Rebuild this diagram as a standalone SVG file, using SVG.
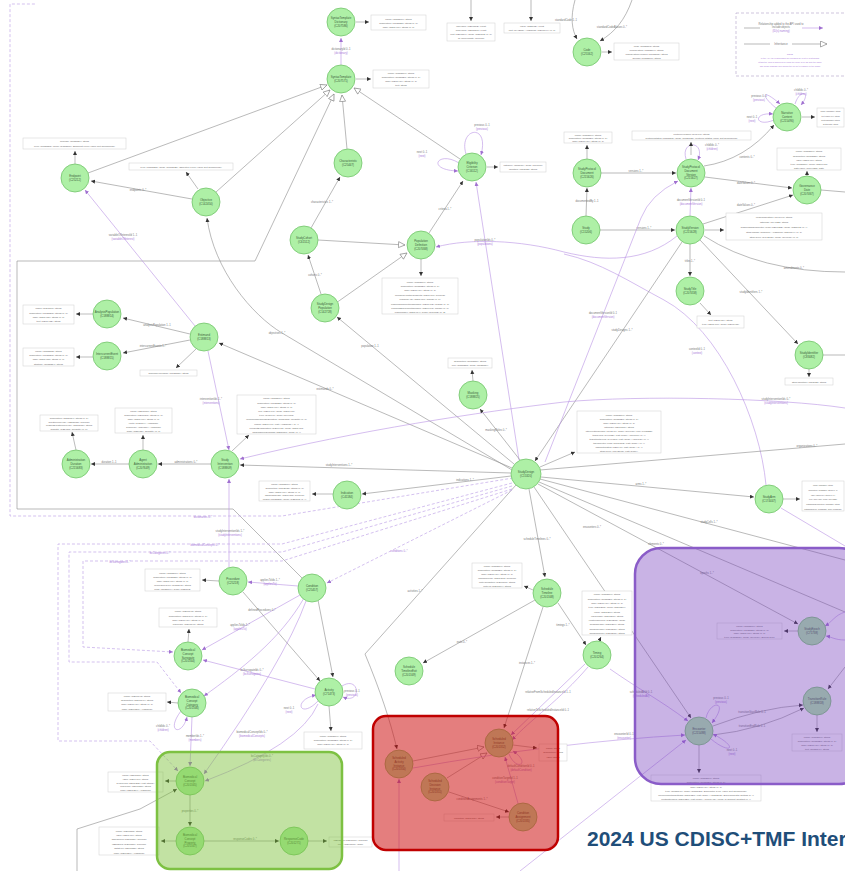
<svg xmlns="http://www.w3.org/2000/svg" width="845" height="871" viewBox="0 0 845 871">
<defs>
<marker id="a" markerUnits="userSpaceOnUse" markerWidth="5" markerHeight="5" refX="4" refY="2" orient="auto"><path d="M0,0 L4,2 L0,4 z" fill="#333"/></marker>
<marker id="ap" markerUnits="userSpaceOnUse" markerWidth="5" markerHeight="5" refX="4" refY="2" orient="auto"><path d="M0,0 L4,2 L0,4 z" fill="#a070d0"/></marker>
<marker id="t" markerUnits="userSpaceOnUse" markerWidth="8" markerHeight="8" refX="7" refY="3.5" orient="auto"><path d="M0.5,0.5 L7,3.5 L0.5,6.5 z" fill="#fff" stroke="#888" stroke-width="0.7"/></marker>
<style>
.n circle{fill:#aef0a6;stroke:#74c46c;stroke-width:0.8}
.n text{font-family:"Liberation Sans",Arial,sans-serif;font-size:2.9px;fill:#3d5f3d;text-anchor:middle}
.b rect{fill:#fff;stroke:#cfcfcf;stroke-width:0.5}
.b text{font-family:"Liberation Sans",Arial,sans-serif;font-size:2.5px;fill:#666;text-anchor:middle}
.b .s{font-size:1.9px}
.e{fill:none;stroke:#8c8c8c;stroke-width:0.6}
.p{fill:none;stroke:#b892e4;stroke-width:0.6}
.d{fill:none;stroke:#c2a6e8;stroke-width:0.7;stroke-dasharray:3 2}
.k{fill:none;stroke:#555;stroke-width:0.4}
.l{font-family:"Liberation Sans",Arial,sans-serif;font-size:2.7px;fill:#777;text-anchor:middle}
.lp{font-family:"Liberation Sans",Arial,sans-serif;font-size:2.7px;fill:#a878d8;text-anchor:middle}
.ln{font-family:"Liberation Sans",Arial,sans-serif;font-size:2.1px;fill:#a878d8;text-anchor:middle}
.title{font-family:"Liberation Sans",Arial,sans-serif;font-size:21px;font-weight:bold;fill:#1f4e79}
</style>
</defs>
<rect width="845" height="871" fill="#fff"/>

<!-- legend -->
<g id="legend">
<rect x="736" y="13" width="115" height="63" fill="none" stroke="#b0a0c8" stroke-width="0.6" stroke-dasharray="3 2"/>
<line x1="744" y1="28" x2="760" y2="28" class="e"/>
<line x1="802" y1="28" x2="823" y2="28" class="p" marker-end="url(#ap)"/>
<text class="l" x="781" y="25">Relationship added to the API used to</text>
<text class="l" x="781" y="28">include objects</text>
<text class="lp" x="781" y="32">(ID(s) naming)</text>
<line x1="744" y1="44" x2="770" y2="44" class="e"/>
<line x1="792" y1="44" x2="827" y2="44" class="e" marker-end="url(#t)"/>
<text class="l" x="781" y="45">Inheritance</text>
<text class="ln" x="790" y="55">NOTE</text>
<text class="ln" x="790" y="59">In the API, the relationships are replaced by a list of relationship</text>
<text class="ln" x="790" y="63">attributes. This is achieved by using the suffix Id or Ids with the name</text>
<text class="ln" x="790" y="67">The model diagram only shows the full set of classes of the model</text>
</g>

<!-- connectors -->
<g id="connectors">
<path class="p" d="M341,65 L341,38" marker-end="url(#ap)"/>
<text class="l" x="341" y="50">dictionaryId 0..1</text><text class="lp" x="341" y="54">(dictionary)</text>
<path class="e" d="M575,0 C570,18 572,30 577,39" marker-end="url(#a)"/>
<path class="e" d="M632,0 C625,20 615,32 600,41" marker-end="url(#a)"/>
<text class="l" x="566" y="21">standardCode 1..1</text>
<text class="l" x="612" y="28">standardCodeAliases 0..*</text>
<path class="e" d="M471,0 L471,21" marker-end="url(#a)"/>
<path class="e" d="M531,0 L531,21" marker-end="url(#a)"/>

<path class="e" d="M347,149 L342,95" marker-end="url(#t)"/>
<path class="e" d="M460,159 L354,88" marker-end="url(#t)"/>
<path class="e" d="M216,192 L330,90" marker-end="url(#t)"/>
<path class="e" d="M88,173 L327,85" marker-end="url(#t)"/>
<path class="e" d="M302,578 L233,509 L17,509 L17,261 L255,261 L334,94" marker-end="url(#t)"/>
<path class="e" d="M336,303 L407,253" marker-end="url(#t)"/>
<path class="e" d="M318,240 L405,245" marker-end="url(#t)"/>

<path class="e" d="M192,199 L91,181" marker-end="url(#a)"/>
<text class="l" x="138" y="191">endpoints 0..*</text>
<path class="p" d="M195,326 L85,190" marker-end="url(#ap)"/>
<text class="l" x="123" y="236">variableOfInterestId 1..1</text><text class="lp" x="123" y="240">(variableOfInterest)</text>
<path class="e" d="M190,334 L123,318" marker-end="url(#a)"/>
<text class="l" x="157" y="326">analysisPopulation 1..1</text>
<path class="e" d="M190,340 L123,353" marker-end="url(#a)"/>
<text class="l" x="153" y="347">intercurrentEvents 1..*</text>
<path class="e" d="M512,468 L219,343" marker-end="url(#a)"/>
<text class="l" x="325" y="390">estimands 0..*</text>
<path class="e" d="M512,470 L282,333 C252,315 214,270 207,218" marker-end="url(#a)"/>
<text class="l" x="277" y="334">objectives 1..*</text>
<path class="p" d="M208,351 L229,450" marker-end="url(#ap)"/>
<text class="l" x="211" y="400">interventionIds 1..*</text><text class="lp" x="211" y="404">(interventions)</text>

<path class="e" d="M511,473 L240,465" marker-end="url(#a)"/>
<text class="l" x="339" y="466">studyInterventions 1..*</text>
<path class="e" d="M211,464 L158,464" marker-end="url(#a)"/>
<text class="l" x="186" y="463">administrations 0..*</text>
<path class="e" d="M129,464 L91,464" marker-end="url(#a)"/>
<text class="l" x="109" y="463">duration 1..1</text>
<path class="p" d="M229,567 L229,479" marker-end="url(#ap)"/>
<text class="l" x="230" y="532">studyInterventionIds 1..*</text><text class="lp" x="230" y="536">(studyInterventions)</text>

<path class="e" d="M514,464 L337,317" marker-end="url(#a)"/>
<text class="l" x="370" y="347">population 1..1</text>
<path class="e" d="M321,294 L308,255" marker-end="url(#a)"/>
<text class="l" x="315" y="276">cohorts 0..*</text>
<path class="e" d="M311,228 L340,177" marker-end="url(#a)"/>
<text class="l" x="322" y="203">characteristics 1..*</text>
<path class="e" d="M429,233 L463,181" marker-end="url(#a)"/>
<text class="l" x="445" y="210">criteria 1..*</text>
<path class="p" d="M466,154 C458,128 490,122 481,155" marker-end="url(#ap)"/>
<text class="l" x="482" y="126">previous 0..1</text><text class="lp" x="482" y="130">(previous)</text>
<path class="p" d="M459,163 C438,150 425,170 458,171" marker-end="url(#ap)"/>
<text class="l" x="422" y="153">next 0..1</text><text class="lp" x="422" y="157">(next)</text>
<path class="p" d="M519,460 L476,182" marker-end="url(#ap)"/>
<path class="p" d="M677,236 C645,262 605,262 564,252 C520,240 470,238 436,247" marker-end="url(#ap)"/>
<text class="l" x="485" y="241">populationIds 0..*</text><text class="lp" x="485" y="245">(populations)</text>
<path class="p" d="M766,485 C760,420 720,330 664,300 C630,282 600,262 564,254"/>
<text class="l" x="697" y="350">contextId 0..1</text><text class="lp" x="697" y="354">(context)</text>

<path class="e" d="M601,173 L676,173" marker-end="url(#a)"/>
<text class="l" x="636" y="172">versions 1..*</text>
<path class="e" d="M586,216 L587,188" marker-end="url(#a)"/>
<text class="l" x="587" y="202">documentedBy 1..1</text>
<path class="p" d="M690,216 L691,188" marker-end="url(#ap)"/>
<text class="l" x="691" y="201">documentVersionId 0..1</text><text class="lp" x="691" y="205">(documentVersion)</text>
<path class="e" d="M704,166 Q745,160 774,125" marker-end="url(#a)"/>
<text class="l" x="747" y="158">contents 0..*</text>
<path class="e" d="M705,177 L792,188" marker-end="url(#a)"/>
<text class="l" x="746" y="184">dateValues 0..*</text>
<path class="e" d="M703,224 L793,195" marker-end="url(#a)"/>
<text class="l" x="746" y="206">dateValues 0..*</text>
<path class="p" d="M686,159 C680,140 706,140 698,160" marker-end="url(#ap)"/>
<text class="l" x="712" y="146">childIds 0..*</text><text class="lp" x="712" y="150">(children)</text>
<path class="p" d="M776,108 C760,95 762,88 780,104" marker-end="url(#ap)"/>
<text class="l" x="759" y="97">previous 0..1</text><text class="lp" x="759" y="101">(previous)</text>
<path class="p" d="M774,120 C755,128 752,112 773,114" marker-end="url(#ap)"/>
<text class="l" x="752" y="118">next 0..1</text><text class="lp" x="752" y="122">(next)</text>
<path class="p" d="M795,104 C800,88 812,92 801,105" marker-end="url(#ap)"/>
<text class="l" x="801" y="91">childIds 0..*</text><text class="lp" x="801" y="95">(children)</text>
<path class="e" d="M821,190 L845,192"/>
<path class="e" d="M600,230 L675,230" marker-end="url(#a)"/>
<text class="l" x="644" y="229">versions 1..*</text>
<path class="e" d="M690,244 L690,276" marker-end="url(#a)"/>
<text class="l" x="690" y="262">titles 1..*</text>
<path class="e" d="M700,240 L798,344" marker-end="url(#a)"/>
<text class="l" x="751" y="293">studyIdentifiers 1..*</text>
<path class="e" d="M704,236 Q760,272 845,272"/>
<text class="l" x="794" y="269">amendments 0..*</text>
<path class="e" d="M823,355 L845,355"/>
<path class="e" d="M682,242 L535,461" marker-end="url(#a)"/>
<text class="l" x="622" y="331">studyDesigns 1..*</text>
<path class="p" d="M545,462 L641,218 Q650,195 678,181" marker-end="url(#ap)"/>
<text class="l" x="603" y="314">documentVersionId 0..1</text><text class="lp" x="603" y="318">(documentVersion)</text>
<path class="p" d="M845,408 C780,398 640,395 564,402 C480,412 360,430 240,459" marker-end="url(#ap)"/>
<text class="l" x="776" y="400">studyInterventionIds 0..*</text><text class="lp" x="776" y="404">(studyInterventions)</text>

<path class="e" d="M520,460 L480,409" marker-end="url(#a)"/>
<text class="l" x="496" y="431">maskingRoles 0..*</text>
<path class="e" d="M541,477 L754,497" marker-end="url(#a)"/>
<text class="l" x="641" y="485">arms 1..*</text>
<path class="e" d="M540,470 L845,444"/>
<text class="l" x="807" y="447">organizations 0..*</text>
<path class="e" d="M540,479 L845,560"/>
<text class="l" x="709" y="523">studyCells 1..*</text>
<path class="e" d="M539,482 L845,612"/>
<text class="l" x="656" y="545">elements 0..*</text>
<path class="e" d="M538,484 L798,624" marker-end="url(#a)"/>
<text class="l" x="707" y="574">epochs 1..*</text>
<path class="e" d="M534,487 L691,718" marker-end="url(#a)"/>
<text class="l" x="592" y="528">encounters 0..*</text>
<path class="p" d="M781,508 L845,546"/>
<path class="e" d="M511,476 L362,494" marker-end="url(#a)"/>
<text class="l" x="465" y="481">indications 1..*</text>
<path class="e" d="M529,489 L545,577" marker-end="url(#a)"/>
<text class="l" x="537" y="540">scheduleTimelines 0..*</text>
<path class="e" d="M516,485 L365,654 C380,690 390,720 397,749" marker-end="url(#a)"/>
<text class="l" x="415" y="592">activities 1..*</text>
<path class="d" d="M512,490 L327,583" marker-end="url(#ap)"/>
<text class="lp" x="399" y="552">conditions 0..*</text>
<path class="d" d="M513,478 L282,516 L10,516 L10,4 L36,4"/>
<text class="lp" x="203" y="518">dictionaries 0..*</text>
<path class="d" d="M512,483 L282,544 L58,544 L58,741 L150,741 L178,771" marker-end="url(#ap)"/>
<text class="lp" x="205" y="546">biomedicalConcepts 0..*</text>
<path class="d" d="M512,486 L282,552 L69,552 L69,662 L157,662 L181,693" marker-end="url(#ap)"/>
<text class="lp" x="160" y="554">bcCategories 0..*</text>
<path class="d" d="M512,489 L282,561 L83,561 L83,647 L173,652" marker-end="url(#ap)"/>
<text class="lp" x="120" y="563">bcSurrogates 0..*</text>

<path class="p" d="M298,586 L248,582" marker-end="url(#ap)"/>
<text class="l" x="270" y="581">appliesToIds 1..*</text><text class="lp" x="270" y="585">(appliesTo)</text>
<path class="p" d="M300,595 L202,650" marker-end="url(#ap)"/>
<text class="l" x="240" y="626">appliesToIds 1..*</text><text class="lp" x="240" y="630">(appliesTo)</text>
<path class="e" d="M243,592 L320,681" marker-end="url(#a)"/>
<text class="l" x="262" y="611">definedProcedures 0..*</text>
<path class="e" d="M318,600 L333,677" marker-end="url(#a)"/>
<path class="p" d="M315,689 L203,660" marker-end="url(#ap)"/>
<text class="l" x="252" y="671">bcSurrogateIds 0..*</text><text class="lp" x="252" y="675">(bcSurrogates)</text>
<path class="p" d="M304,598 C280,640 240,670 204,696" marker-end="url(#ap)"/>
<path class="p" d="M306,601 Q285,660 204,774" marker-end="url(#ap)"/>
<text class="l" x="252" y="733">biomedicalConceptIds 0..*</text><text class="lp" x="252" y="737">(biomedicalConcepts)</text>
<path class="p" d="M318,704 Q300,745 205,781" marker-end="url(#ap)"/>
<text class="l" x="262" y="757">bcCategoryIds 0..*</text><text class="lp" x="262" y="761">(bcCategories)</text>
<path class="p" d="M192,717 L190,766" marker-end="url(#ap)"/>
<text class="l" x="195" y="737">memberIds 1..*</text><text class="lp" x="195" y="741">(members)</text>
<path class="p" d="M181,711 C165,732 182,737 187,717" marker-end="url(#ap)"/>
<text class="l" x="163" y="727">childIds 0..*</text><text class="lp" x="163" y="731">(children)</text>
<path class="e" d="M190,795 L190,826" marker-end="url(#a)"/>
<text class="l" x="190" y="812">properties 0..*</text>
<path class="e" d="M204,841 L279,841" marker-end="url(#a)"/>
<text class="l" x="245" y="840">responseCodes 0..*</text>
<path class="e" d="M77,871 L77,829 L140,809 L177,789" marker-end="url(#a)"/>
<path class="p" d="M342,686 C360,675 362,705 343,697" marker-end="url(#ap)"/>
<text class="l" x="352" y="692">previous 0..1</text><text class="lp" x="352" y="696">(previous)</text>
<path class="p" d="M318,701 C300,720 292,700 316,695" marker-end="url(#ap)"/>
<text class="l" x="289" y="709">next 0..1</text><text class="lp" x="289" y="713">(next)</text>

<path class="e" d="M535,600 L423,663" marker-end="url(#a)"/>
<text class="l" x="462" y="643">exits 0..*</text>
<path class="e" d="M543,607 L504,728" marker-end="url(#a)"/>
<text class="l" x="527" y="664">instances 1..*</text>
<path class="e" d="M558,603 L586,645" marker-end="url(#a)"/>
<text class="l" x="563" y="626">timings 1..*</text>
<path class="e" d="M413,761 L484,747" marker-end="url(#t)"/>
<path class="e" d="M447,778 L487,753" marker-end="url(#t)"/>
<path class="e" d="M449,792 L509,812" marker-end="url(#a)"/>
<text class="l" x="472" y="800">conditionAssignments 1..*</text>
<path class="p" d="M519,807 L505,757" marker-end="url(#ap)"/>
<text class="l" x="505" y="779">conditionTargetId 1..1</text><text class="lp" x="505" y="783">(conditionTarget)</text>
<path class="p" d="M509,754 C516,772 532,764 513,751" marker-end="url(#ap)"/>
<text class="l" x="521" y="767">defaultConditionId 0..1</text><text class="lp" x="521" y="771">(defaultCondition)</text>
<path class="p" d="M585,664 L511,735" marker-end="url(#ap)"/>
<text class="l" x="548" y="693">relativeFromScheduledInstanceId 1..1</text>
<path class="p" d="M588,667 C560,700 530,720 512,740" marker-end="url(#ap)"/>
<text class="l" x="548" y="711">relativeToScheduledInstanceId 0..1</text>
<path class="p" d="M399,871 L399,779" marker-end="url(#ap)"/>
<path class="p" d="M413,768 Q560,742 685,735" marker-end="url(#ap)"/>
<text class="l" x="624" y="735">encounterId 0..1</text><text class="lp" x="624" y="739">(encounter)</text>
<path class="p" d="M520,871 L686,740" marker-end="url(#ap)"/>
<path class="p" d="M610,669 C640,690 660,700 688,721" marker-end="url(#ap)"/>
<text class="l" x="641" y="693">scheduledAtId 0..1</text><text class="lp" x="641" y="697">(scheduledAt)</text>

<path class="e" d="M713,726 Q760,708 803,705" marker-end="url(#a)"/>
<text class="l" x="752" y="713">transitionStartRule 0..1</text>
<path class="e" d="M713,735 Q760,730 804,708" marker-end="url(#a)"/>
<text class="l" x="752" y="727">transitionEndRule 0..1</text>
<path class="p" d="M706,718 C710,700 730,700 712,723" marker-end="url(#ap)"/>
<text class="l" x="721" y="699">previous 0..1</text><text class="lp" x="721" y="703">(previous)</text>
<path class="p" d="M711,739 C730,755 740,748 713,734" marker-end="url(#ap)"/>
<text class="l" x="732" y="751">next 0..1</text><text class="lp" x="732" y="755">(next)</text>
<path class="e" d="M845,667 L828,689" marker-end="url(#a)"/>
<path class="p" d="M845,612 C835,615 832,622 825,626" marker-end="url(#ap)"/>
<path class="p" d="M845,640 C835,640 832,637 826,636" marker-end="url(#ap)"/>
</g>

<!-- attribute boxes with their arrows -->
<g id="boxes">
<g class="b"><path class="k" d="M356,22 L369,22" marker-end="url(#a)"/><rect x="371" y="15" width="55" height="15"/><text x="398.5" y="19.5">name (C188819): string</text><text x="398.5" y="23.5">description (C188820): string [0..1]</text><text x="398.5" y="27.5">label (C207479): string [0..1]</text></g>
<g class="b"><path class="k" d="M356,79 L371,79" marker-end="url(#a)"/><rect x="373" y="70" width="56" height="18"/><text x="401" y="74.2">name (C188819): string</text><text x="401" y="78.2">description (C188820): string [0..1]</text><text x="401" y="82.2">label (C207479): string [0..1]</text><text x="401" y="86.2">text: string</text></g>
<g class="b"><rect x="447" y="23" width="48" height="18"/><text x="471" y="27.2">minValue (C207502): Float</text><text x="471" y="31.2">maxValue (C207503): Float</text><text x="471" y="35.2">unit (C207504): Code (C25162) [0..1]</text><text x="471" y="39.2">isApproximate: boolean</text></g>
<g class="b"><rect x="504" y="23" width="56" height="10"/><text x="532" y="27.2">value (C25712): Float</text><text x="532" y="31.2">unit (C44258): AliasCode (C201344) [0..1]</text></g>
<g class="b"><path class="k" d="M602,52 L612,52" marker-end="url(#a)"/><rect x="614" y="43" width="65" height="17"/><text x="646.5" y="47">code (C188863): string</text><text x="646.5" y="51">codeSystem (C188864): string</text><text x="646.5" y="55">codeSystemVersion (C188865): string</text><text x="646.5" y="59">decode (C188866): string</text></g>
<g class="b"><path class="k" d="M75,164 L75,151" marker-end="url(#a)"/><rect x="23" y="138" width="103" height="11"/><text x="74.5" y="142.3">purpose (C188824): string</text><text x="74.5" y="146.6">level (C188858): Code (C188860): Endpoint Level Value Set Terminology</text></g>
<g class="b"><path class="k" d="M198,189 L186,172" marker-end="url(#a)"/><rect x="129" y="163" width="104" height="7"/><text x="181" y="167.6">level (C188823): Code (C188725): Objective Level Value Set Terminology</text></g>
<g class="b"><path class="k" d="M487,167 L498,167" marker-end="url(#a)"/><rect x="500" y="162" width="46" height="10"/><text x="523" y="166.2">category (C83016): Code (C?????)</text><text x="523" y="170.2">identifier (C83082): string</text></g>
<g class="b"><path class="k" d="M587,159 L587,145" marker-end="url(#a)"/><rect x="564" y="132" width="48" height="11"/><text x="588" y="135.6">name (C188819): string</text><text x="588" y="138.6">description (C188820): string [0..1]</text><text x="588" y="141.6">label (C207479): string [0..1]</text></g>
<g class="b"><path class="k" d="M691,155 L691,142" marker-end="url(#a)"/><rect x="632" y="131" width="119" height="9"/><text x="691.5" y="134.8">protocolVersion (C93490): string</text><text x="691.5" y="138.6">protocolStatus (C188818): Code (C188723): Protocol Status Value Set Terminology</text></g>
<g class="b"><path class="k" d="M802,117 L815,117" marker-end="url(#a)"/><rect x="817" y="108" width="27" height="19"/><text class="s" x="830.5" y="112.4">name (C188819): string</text><text class="s" x="830.5" y="116.6">text (C207474): string</text><text class="s" x="830.5" y="120.8">sectionNumber: string</text><text class="s" x="830.5" y="125">sectionTitle: string</text></g>
<g class="b"><path class="k" d="M807,176 L807,171" marker-end="url(#a)"/><rect x="777" y="148" width="64" height="22"/><text x="809" y="152.3">name (C188819): string</text><text x="809" y="156.5">description (C188820): string</text><text x="809" y="160.7">label (C207479): string</text><text x="809" y="164.9">type (C188839): Code (C207413)</text><text x="809" y="169.1">dateValue (C164625): date</text></g>
<g class="b"><path class="k" d="M705,230 L724,230" marker-end="url(#a)"/><rect x="726" y="213" width="96" height="27"/><text x="774" y="218">versionIdentifier (C93490): string</text><text x="774" y="223">rationale (C94122): string</text><text x="774" y="228">businessTherapeuticAreas (C201322): Code (C25162) [0..*]</text><text x="774" y="233">studyPhase (C15601): AliasCode (C201344) [0..1]</text><text x="774" y="238">studyType (C142175): Code (C99077) [0..1]</text></g>
<g class="b"><path class="k" d="M700,303 L711,315" marker-end="url(#a)"/><rect x="697" y="316" width="47" height="12"/><text x="720.5" y="320.8">text (C207459): string</text><text x="720.5" y="325.4">type (C207460): Code (C207418)</text></g>
<g class="b"><path class="k" d="M809,369 L809,377" marker-end="url(#a)"/><rect x="785" y="378" width="48" height="7"/><text x="809" y="382.6">studyIdentifier (C83082): string</text></g>
<g class="b"><path class="k" d="M421,259 L421,276" marker-end="url(#a)"/><rect x="382" y="278" width="76" height="36"/><text x="420" y="282.5">name (C188819): string</text><text x="420" y="286.9">description (C188820): string [0..1]</text><text x="420" y="291.3">label (C207479): string [0..1]</text><text x="420" y="295.7">includesHealthySubjects (C207470): boolean</text><text x="420" y="300.1">plannedAge (C207471): Range [0..1]</text><text x="420" y="304.5">plannedCompletionNumber (C207472): Range [0..1]</text><text x="420" y="308.9">plannedEnrollmentNumber (C207473): Range [0..1]</text><text x="420" y="313.1">plannedSex (C207474): Code (C66732) [0..2]</text></g>
<g class="b"><path class="k" d="M93,314 L76,314" marker-end="url(#a)"/><rect x="23" y="305" width="51" height="19"/><text x="48.5" y="309.3">name (C117116): string</text><text x="48.5" y="313.5">description (C188853): string [0..1]</text><text x="48.5" y="317.7">label (C207481): string [0..1]</text><text x="48.5" y="321.9">text (C207482): string</text></g>
<g class="b"><path class="k" d="M93,357 L76,357" marker-end="url(#a)"/><rect x="23" y="348" width="51" height="18"/><text x="48.5" y="352.2">name (C188852): string</text><text x="48.5" y="356.3">description (C188853): string [0..1]</text><text x="48.5" y="360.4">label (C207483): string [0..1]</text><text x="48.5" y="364.5">strategy (C188854): string</text></g>
<g class="b"><path class="k" d="M196,349 L176,368" marker-end="url(#a)"/><rect x="140" y="370" width="57" height="6"/><text x="168.5" y="374">summaryMeasure (C188856): string</text></g>
<g class="b"><path class="k" d="M473,381 L472,370" marker-end="url(#a)"/><rect x="448" y="358" width="44" height="10"/><text x="470" y="362.2">description (C188857): string</text><text x="470" y="366.2">role (C188858): Code (C188854)</text></g>
<g class="b"><path class="k" d="M333,494 L312,494" marker-end="url(#a)"/><rect x="259" y="481" width="51" height="20"/><text x="284.5" y="485">name (C188819): string</text><text x="284.5" y="488.8">description (C112038): string [0..1]</text><text x="284.5" y="492.6">label (C207479): string [0..1]</text><text x="284.5" y="496.4">isRareDisease (C207488): boolean</text><text x="284.5" y="500">codes (C188858): Code (C25162) [1..*]</text></g>
<g class="b"><path class="k" d="M540,467 L575,452" marker-end="url(#a)"/><rect x="577" y="411" width="84" height="42"/><text x="619" y="415.5">name (C188819): string</text><text x="619" y="419.6">description (C188820): string [0..1]</text><text x="619" y="423.7">label (C207479): string [0..1]</text><text x="619" y="427.8">rationale (C217300): string</text><text x="619" y="431.9">interventionModel (C98746): Code (C99076): TRIALMODEL</text><text x="619" y="436">trialTypes (C49652): List&lt;Code&gt; (C66739) [0..*]</text><text x="619" y="440.1">trialIntentTypes (C49653): List&lt;Code&gt; (C66736) [0..*]</text><text x="619" y="444.2">therapeuticAreas (C101302): List&lt;Code&gt; [0..*]</text><text x="619" y="448.3">characteristics (C25447): List&lt;Code&gt; [0..*]</text><text x="619" y="452.2">studyType (C142175): List&lt;Code&gt;</text></g>
<g class="b"><path class="k" d="M783,499 L800,499" marker-end="url(#a)"/><rect x="802" y="481" width="42" height="30"/><text class="s" x="823" y="486">name (C188819): string</text><text class="s" x="823" y="490.8">description (C188820): string [0..1]</text><text class="s" x="823" y="495.6">label (C207479): string [0..1]</text><text class="s" x="823" y="500.4">type (C174451): Code (C174222)</text><text class="s" x="823" y="505.2">dataOriginDescription (C188829): string</text><text class="s" x="823" y="510">dataOriginType (C188828): Code (C188727)</text></g>
<g class="b"><path class="k" d="M232,451 L249,435" marker-end="url(#a)"/><rect x="237" y="395" width="79" height="39"/><text x="276.5" y="399.4">name (C188819): string</text><text x="276.5" y="403.6">description (C188820): string [0..1]</text><text x="276.5" y="407.8">label (C207479): string [0..1]</text><text x="276.5" y="412">role (C207490): Code (C207417)</text><text x="276.5" y="416.2">type (C98747): Code (C99078)</text><text x="276.5" y="420.4">minimumResponseDuration (C186338): Quantity [0..1]</text><text x="276.5" y="424.6">codes (C207491): List&lt;AliasCode&gt; [1..*]</text><text x="276.5" y="428.8">productDesignation (C207492): Code (C207418)</text><text x="276.5" y="433">pharmacologicClass (C215687): Code [0..*]</text></g>
<g class="b"><path class="k" d="M143,450 L143,435" marker-end="url(#a)"/><rect x="115" y="408" width="57" height="25"/><text x="143.5" y="412.2">name (C207650): string</text><text x="143.5" y="416.2">description (C207651): string [0..1]</text><text x="143.5" y="420.2">label (C207479): string [0..1]</text><text x="143.5" y="424.2">route (C38114): AliasCode</text><text x="143.5" y="428.2">frequency (C89081): AliasCode</text><text x="143.5" y="432.2">dose (C25488): Quantity [0..1]</text></g>
<g class="b"><path class="k" d="M76,450 L72,432" marker-end="url(#a)"/><rect x="40" y="415" width="58" height="16"/><text x="69" y="419">description (C215684): string [0..1]</text><text x="69" y="422.7">durationWillVary (C215685): boolean</text><text x="69" y="426.4">reasonDurationWillVary (C215686): string</text><text x="69" y="430.1">quantity (C25488): Quantity [0..1]</text></g>
<g class="b"><path class="k" d="M219,581 L202,580" marker-end="url(#a)"/><rect x="145" y="569" width="55" height="22"/><text x="172.5" y="573.5">name (C188819): string</text><text x="172.5" y="577.7">description (C188820): string [0..1]</text><text x="172.5" y="581.9">label (C207479): string [0..1]</text><text x="172.5" y="586.1">procedureType (C188848): string</text><text x="172.5" y="590.3">code (C188849): Code (C25162)</text></g>
<g class="b"><path class="k" d="M188,642 L189,629" marker-end="url(#a)"/><rect x="159" y="608" width="58" height="19"/><text x="188" y="612.3">name (C201345): string</text><text x="188" y="616.5">description (C201346): string [0..1]</text><text x="188" y="620.7">label (C207479): string [0..1]</text><text x="188" y="624.9">reference (C201347): string</text></g>
<g class="b"><path class="k" d="M178,703 L167,702" marker-end="url(#a)"/><rect x="108" y="693" width="58" height="18"/><text x="137" y="697.2">name (C201348): string</text><text x="137" y="701.3">description (C201349): string</text><text x="137" y="705.4">label (C207479): string [0..1]</text><text x="137" y="709.5">code (C201350): AliasCode</text></g>
<g class="b"><path class="k" d="M329,706 L331,731" marker-end="url(#a)"/><rect x="304" y="732" width="58" height="17"/><text x="333" y="736.6">name (C188819): string</text><text x="333" y="741">description (C188820): string [0..1]</text><text x="333" y="745.4">label (C207479): string [0..1]</text></g>
<g class="b"><path class="k" d="M533,590 L524,586" marker-end="url(#a)"/><rect x="472" y="563" width="50" height="25"/><text x="497" y="567.2">name (C188819): string</text><text x="497" y="571.2">description (C188820): string [0..1]</text><text x="497" y="575.2">label (C207479): string [0..1]</text><text x="497" y="579.2">mainTimeline (C201362): boolean</text><text x="497" y="583.2">entryCondition (C201363): string</text><text x="497" y="587.2">entryId (C201364): string</text></g>
<g class="b"><path class="k" d="M599,641 L601,637" marker-end="url(#a)"/><rect x="582" y="591" width="50" height="44"/><text x="607" y="595.3">name (C188819): string</text><text x="607" y="599.6">description (C188820): string [0..1]</text><text x="607" y="603.9">label (C207479): string [0..1]</text><text x="607" y="608.2">type (C201265): Code (C201264)</text><text x="607" y="612.5">value (C201266): string</text><text x="607" y="616.8">valueLabel (C201267): string</text><text x="607" y="621.1">relativeToFrom (C201268): Code</text><text x="607" y="625.4">windowLabel (C201269): string</text><text x="607" y="629.7">windowLower (C201270): string</text><text x="607" y="634">windowUpper (C201271): string</text></g>
<g class="b"><path class="k" d="M798,631 L784,631" marker-end="url(#a)"/><rect x="717" y="623" width="65" height="16"/><text x="749.5" y="627">name (C188819): string</text><text x="749.5" y="630.7">description (C188820): string [0..1]</text><text x="749.5" y="634.4">label (C207479): string [0..1]</text><text x="749.5" y="638.1">type (C188836): Code (C99079): Epoch Type</text></g>
<g class="b"><path class="k" d="M699,745 L699,773" marker-end="url(#a)"/><rect x="651" y="775" width="110" height="26"/><text x="706" y="779.2">name (C188819): string</text><text x="706" y="783.4">description (C188820): string [0..1]</text><text x="706" y="787.6">label (C207479): string [0..1]</text><text x="706" y="791.8">type (C188840): Code (C188728): Encounter Type Value Set Terminology</text><text x="706" y="796">environmentalSettings (C201320): List&lt;Code&gt; (C127262): Environmental Setting [0..*]</text><text x="706" y="800.2">contactModes (C201321): List&lt;Code&gt; (C171445): Mode of Subject Contact [0..*]</text></g>
<g class="b"><path class="k" d="M817,715 L817,732" marker-end="url(#a)"/><rect x="792" y="734" width="50" height="17"/><text x="817" y="738">name (C188819): string</text><text x="817" y="742">description (C188820): string [0..1]</text><text x="817" y="746">label (C207479): string [0..1]</text><text x="817" y="750">text (C188849): string</text></g>
<g class="b"><path class="k" d="M176,781 L165,781" marker-end="url(#a)"/><rect x="108" y="772" width="55" height="20"/><text x="135.5" y="776">name (C201351): string</text><text x="135.5" y="779.8">label (C207479): string</text><text x="135.5" y="783.6">synonyms (C201352): List&lt;string&gt;</text><text x="135.5" y="787.4">reference (C201353): string</text><text x="135.5" y="791.2">code (C201354): AliasCode</text></g>
<g class="b"><path class="k" d="M176,841 L161,841" marker-end="url(#a)"/><rect x="99" y="827" width="60" height="28"/><text x="129" y="831.5">name (C201355): string</text><text x="129" y="835.9">label (C207479): string</text><text x="129" y="840.3">isRequired (C201356): boolean</text><text x="129" y="844.7">isEnabled (C201357): boolean</text><text x="129" y="849.1">datatype (C201358): string</text><text x="129" y="853.5">code (C201359): AliasCode</text></g>
<g class="b"><path class="k" d="M308,841 L327,841" marker-end="url(#a)"/><rect x="329" y="837" width="43" height="10"/><text x="350.5" y="841">isEnabled (C201360): boolean</text><text x="350.5" y="845">code (C201361): Code</text></g>
<g class="b"><path class="k" d="M513,745 L537,748" marker-end="url(#a)"/><rect x="539" y="744" width="28" height="17"/><text x="553" y="748.8">name: string</text><text x="553" y="753.4">description: string</text><text x="553" y="758">label: string</text></g>
<g class="b"><path class="k" d="M509,817 L496,817" marker-end="url(#a)"/><rect x="444" y="814" width="50" height="7"/><text x="469" y="818.6">condition (C201336): string</text></g>
</g>

<!-- nodes -->
<g id="n-std" class="n"><circle cx="341" cy="22" r="14"/><text x="341" y="19">SyntaxTemplate</text><text x="341" y="22.8">Dictionary</text><text x="341" y="26.6">(C207586)</text></g>
<g id="n-st" class="n"><circle cx="341" cy="79" r="14"/><text x="341" y="78">SyntaxTemplate</text><text x="341" y="82">(C207571)</text></g>
<g id="n-char" class="n"><circle cx="348" cy="163" r="14"/><text x="348" y="162">Characteristic</text><text x="348" y="166">(C25447)</text></g>
<g id="n-ec" class="n"><circle cx="472" cy="167" r="14"/><text x="472" y="164">Eligibility</text><text x="472" y="167.8">Criterion</text><text x="472" y="171.6">(C16112)</text></g>
<g id="n-code" class="n"><circle cx="587" cy="52" r="14"/><text x="587" y="51">Code</text><text x="587" y="55">(C25162)</text></g>
<g id="n-endp" class="n"><circle cx="75" cy="178" r="14"/><text x="75" y="177">Endpoint</text><text x="75" y="181">(C25212)</text></g>
<g id="n-obj" class="n"><circle cx="206" cy="202" r="14"/><text x="206" y="201">Objective</text><text x="206" y="205">(C142450)</text></g>
<g id="n-spd" class="n"><circle cx="587" cy="173" r="14"/><text x="587" y="170">StudyProtocol</text><text x="587" y="173.8">Document</text><text x="587" y="177.6">(C215626)</text></g>
<g id="n-spdv" class="n"><circle cx="691" cy="173" r="14"/><text x="691" y="168">StudyProtocol</text><text x="691" y="171.8">Document</text><text x="691" y="175.6">Version</text><text x="691" y="179.4">(C215627)</text></g>
<g id="n-nc" class="n"><circle cx="787" cy="117" r="14"/><text x="787" y="114">Narrative</text><text x="787" y="117.8">Content</text><text x="787" y="121.6">(C215490)</text></g>
<g id="n-gd" class="n"><circle cx="807" cy="190" r="14"/><text x="807" y="187">Governance</text><text x="807" y="190.8">Date</text><text x="807" y="194.6">(C207467)</text></g>
<g id="n-study" class="n"><circle cx="586" cy="230" r="14"/><text x="586" y="229">Study</text><text x="586" y="233">(C15206)</text></g>
<g id="n-sv" class="n"><circle cx="690" cy="230" r="14"/><text x="690" y="229">StudyVersion</text><text x="690" y="233">(C215628)</text></g>
<g id="n-title" class="n"><circle cx="690" cy="291" r="14"/><text x="690" y="290">StudyTitle</text><text x="690" y="294">(C207458)</text></g>
<g id="n-sid" class="n"><circle cx="809" cy="355" r="14"/><text x="809" y="354">StudyIdentifier</text><text x="809" y="358">(C83082)</text></g>
<g id="n-coh" class="n"><circle cx="304" cy="240" r="14"/><text x="304" y="239">StudyCohort</text><text x="304" y="243">(C61512)</text></g>
<g id="n-pd" class="n"><circle cx="421" cy="245" r="14"/><text x="421" y="242">Population</text><text x="421" y="245.8">Definition</text><text x="421" y="249.6">(C207468)</text></g>
<g id="n-sdp" class="n"><circle cx="325" cy="308" r="14"/><text x="325" y="305">StudyDesign</text><text x="325" y="308.8">Population</text><text x="325" y="312.6">(C142728)</text></g>
<g id="n-ap" class="n"><circle cx="107" cy="314" r="14"/><text x="107" y="313">AnalysisPopulation</text><text x="107" y="317">(C188814)</text></g>
<g id="n-ie" class="n"><circle cx="107" cy="356" r="14"/><text x="107" y="355">IntercurrentEvent</text><text x="107" y="359">(C188815)</text></g>
<g id="n-est" class="n"><circle cx="204" cy="337" r="14"/><text x="204" y="336">Estimand</text><text x="204" y="340">(C188813)</text></g>
<g id="n-mask" class="n"><circle cx="473" cy="395" r="14"/><text x="473" y="394">Masking</text><text x="473" y="398">(C188825)</text></g>
<g id="n-sd" class="n"><circle cx="526" cy="474" r="15"/><text x="526" y="473">StudyDesign</text><text x="526" y="477">(C15320)</text></g>
<g id="n-arm" class="n"><circle cx="769" cy="499" r="14"/><text x="769" y="498">StudyArm</text><text x="769" y="502">(C174447)</text></g>
<g id="n-ind" class="n"><circle cx="347" cy="495" r="14"/><text x="347" y="494">Indication</text><text x="347" y="498">(C41184)</text></g>
<g id="n-adur" class="n"><circle cx="76" cy="464" r="14"/><text x="76" y="461">Administration</text><text x="76" y="464.8">Duration</text><text x="76" y="468.6">(C215683)</text></g>
<g id="n-aga" class="n"><circle cx="143" cy="464" r="14"/><text x="143" y="461">Agent</text><text x="143" y="464.8">Administration</text><text x="143" y="468.6">(C207649)</text></g>
<g id="n-si" class="n"><circle cx="225" cy="464" r="14"/><text x="225" y="461">Study</text><text x="225" y="464.8">Intervention</text><text x="225" y="468.6">(C188809)</text></g>
<g id="n-proc" class="n"><circle cx="233" cy="581" r="14"/><text x="233" y="580">Procedure</text><text x="233" y="584">(C25218)</text></g>
<g id="n-cond" class="n"><circle cx="312" cy="588" r="14"/><text x="312" y="587">Condition</text><text x="312" y="591">(C25457)</text></g>
<g id="n-bcs" class="n"><circle cx="188" cy="656" r="14"/><text x="188" y="651">Biomedical</text><text x="188" y="654.8">Concept</text><text x="188" y="658.6">Surrogate</text><text x="188" y="662.4">(C201344)</text></g>
<g id="n-bcc" class="n"><circle cx="192" cy="703" r="14"/><text x="192" y="698">Biomedical</text><text x="192" y="701.8">Concept</text><text x="192" y="705.6">Category</text><text x="192" y="709.4">(C201346)</text></g>
<g id="n-act" class="n"><circle cx="329" cy="692" r="14"/><text x="329" y="691">Activity</text><text x="329" y="695">(C71473)</text></g>
<g id="n-stl" class="n"><circle cx="547" cy="593" r="14"/><text x="547" y="590">Schedule</text><text x="547" y="593.8">Timeline</text><text x="547" y="597.6">(C201348)</text></g>
<g id="n-ste" class="n"><circle cx="409" cy="671" r="14"/><text x="409" y="668">Schedule</text><text x="409" y="671.8">TimelineExit</text><text x="409" y="675.6">(C201349)</text></g>
<g id="n-tim" class="n"><circle cx="597" cy="655" r="14"/><text x="597" y="654">Timing</text><text x="597" y="658">(C201264)</text></g>
<g id="n-epoch" class="n"><circle cx="812" cy="631" r="14"/><text x="812" y="630">StudyEpoch</text><text x="812" y="634">(C71738)</text></g>
<g id="n-enc" class="n"><circle cx="699" cy="731" r="14"/><text x="699" y="730">Encounter</text><text x="699" y="734">(C215488)</text></g>
<g id="n-tr" class="n"><circle cx="817" cy="701" r="14"/><text x="817" y="700">TransitionRule</text><text x="817" y="704">(C188818)</text></g>
<g id="n-bc" class="n"><circle cx="190" cy="781" r="14"/><text x="190" y="778">Biomedical</text><text x="190" y="781.8">Concept</text><text x="190" y="785.6">(C201345)</text></g>
<g id="n-bcp" class="n"><circle cx="190" cy="841" r="14"/><text x="190" y="836">Biomedical</text><text x="190" y="839.8">Concept</text><text x="190" y="843.6">Property</text><text x="190" y="847.4">(C201347)</text></g>
<g id="n-rc" class="n"><circle cx="294" cy="841" r="14"/><text x="294" y="840">ResponseCode</text><text x="294" y="844">(C201271)</text></g>
<g id="n-sai" class="n"><circle cx="399" cy="764" r="14"/><text x="399" y="759">Scheduled</text><text x="399" y="762.8">Activity</text><text x="399" y="766.6">Instance</text><text x="399" y="770.4">(C201350)</text></g>
<g id="n-sdi" class="n"><circle cx="435" cy="787" r="14"/><text x="435" y="782">Scheduled</text><text x="435" y="785.8">Decision</text><text x="435" y="789.6">Instance</text><text x="435" y="793.4">(C201351)</text></g>
<g id="n-sci" class="n"><circle cx="499" cy="743" r="14"/><text x="499" y="740">Scheduled</text><text x="499" y="743.8">Instance</text><text x="499" y="747.6">(C201352)</text></g>
<g id="n-ca" class="n"><circle cx="523" cy="817" r="14"/><text x="523" y="814">Condition</text><text x="523" y="817.8">Assignment</text><text x="523" y="821.6">(C201335)</text></g>

<!-- highlight regions -->
<g id="regions">
<rect x="157" y="752" width="185" height="117" rx="13" fill="rgb(120,190,50)" fill-opacity="0.45" stroke="#7dc142" stroke-width="2.5"/>
<rect x="373" y="716" width="185" height="134" rx="13" fill="rgb(205,20,20)" fill-opacity="0.55" stroke="#c00000" stroke-width="2.5"/>
<rect x="635" y="548" width="230" height="236" rx="26" fill="rgb(120,65,190)" fill-opacity="0.4" stroke="#8a5cc8" stroke-width="2.5"/>
</g>

<text class="title" x="587" y="846">2024 US CDISC+TMF Inter</text>
</svg>
